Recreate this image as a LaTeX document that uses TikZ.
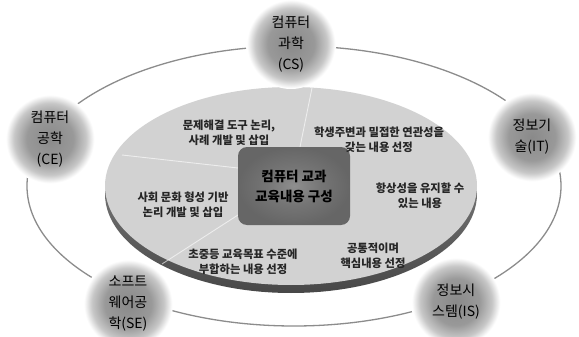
\documentclass[tikz,border=0pt]{standalone}
\usepackage{fontspec}
\setmainfont{Noto Sans CJK KR}
\colorlet{ballA}{black!46}
\colorlet{ballB}{black!40}
\colorlet{ballC}{black!22}
\colorlet{ballD}{white}
\pgfdeclareradialshading{ball}{\pgfpoint{0bp}{0bp}}{color(0bp)=(ballA); color(13bp)=(ballB); color(20bp)=(ballC); color(24.5bp)=(ballD); color(50bp)=(ballD)}
\colorlet{boxA}{black!44}
\colorlet{boxB}{black!54}
\colorlet{boxC}{black!60}
\pgfdeclareradialshading{boxsh}{\pgfpoint{0bp}{0bp}}{color(0bp)=(boxA); color(12bp)=(boxB); color(25bp)=(boxC); color(50bp)=(boxC)}
\definecolor{ringline}{HTML}{8C8C8C}
\definecolor{disktop}{HTML}{D2D2D2}
\begin{document}
\begin{tikzpicture}[x=1pt,y=-1pt,
  field/.style={circle, minimum size=90pt, inner sep=0pt, shading=ball, align=center,
    font=\fontsize{14}{21}\selectfont, text=black},
  sector/.style={align=center, inner sep=0pt, font=\fontsize{11.3}{15}\selectfont\bfseries, text=black!85},
  core/.style={rectangle, rounded corners=9pt, minimum width=112pt, minimum height=78pt,
    shading=boxsh, align=center, font=\fontsize{13.5}{20}\selectfont\bfseries, text=black},
  seam/.style={draw=white, line width=0.9pt, opacity=0.6},
]
\useasboundingbox (0,0) rectangle (579,337);
\fill[white] (0,0) rectangle (579,337);
% outer ring
\draw[ringline, line width=1.3pt] (294,186) ellipse [x radius=267, y radius=140];
% disk
\shade[top color=black!40, bottom color=black!72] (291,194) ellipse [x radius=186, y radius=99];
\fill[disktop] (291,186) ellipse [x radius=186, y radius=99];
% seams
\coordinate (s1a) at (122,155); \coordinate (s1b) at (238,168);
\coordinate (s2a) at (312,88);  \coordinate (s2b) at (300,147);
\coordinate (s3a) at (162,264); \coordinate (s3b) at (238,215);
\draw[seam] (s1a) -- (s1b);
\draw[seam] (s2a) -- (s2b);
\draw[seam] (s3a) -- (s3b);
% centre
\node[core] (core) at (294,186) {컴퓨터 교과\\교육내용 구성};
% sector texts
\node[sector] (t1) at (229,133) {문제해결 도구 논리,\\사례 개발 및 삽입};
\node[sector] (t2) at (379,140) {학생주변과 밀접한 연관성을\\갖는 내용 선정};
\node[sector] (t3) at (420,196) {항상성을 유지할 수\\있는 내용};
\node[sector] (t4) at (183,205) {사회 문화 형성 기반\\논리 개발 및 삽입};
\node[sector] (t5) at (243,262) {초중등 교육목표 수준에\\부합하는 내용 선정};
\node[sector] (t6) at (373,256) {공통적이며\\핵심내용 선정};
% fields
\node[field] (cs) at (291,44) {컴퓨터\\과학\\(CS)};
\node[field] (ce) at (50,139) {컴퓨터\\공학\\(CE)};
\node[field] (it) at (532,137) {정보기\\술(IT)};
\node[field] (se) at (128,304) {소프트\\웨어공\\학(SE)};
\node[field] (is) at (456,302) {정보시\\스템(IS)};
\end{tikzpicture}
\end{document}
